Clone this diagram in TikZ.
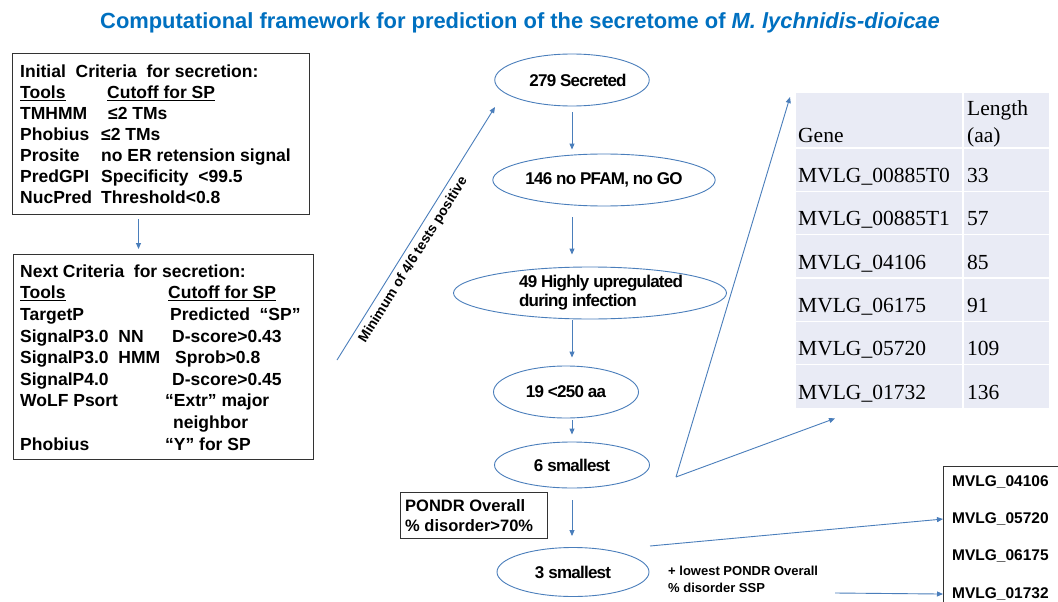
\documentclass[tikz,border=0pt]{standalone}
\usepackage{fontspec}
\setmainfont{Liberation Sans}
\newfontfamily\tabserif{Liberation Serif}
\newfontfamily\tightsans[LetterSpace=-4.5]{Liberation Sans}
\usetikzlibrary{arrows.meta,shapes.geometric}
\definecolor{linec}{RGB}{74,126,187}
\definecolor{titlec}{RGB}{0,112,192}
\definecolor{tabbg}{RGB}{233,235,245}
\begin{document}
\begin{tikzpicture}[x=1pt,y=-1pt,
  framebox/.style={draw=black!80, line width=1pt, inner sep=0pt, anchor=north west},
  txt/.style={inner sep=0pt, anchor=north west, font=\bfseries},
  flow/.style={ellipse, draw=linec, line width=0.9pt, inner sep=0pt,
    font=\tightsans\bfseries\fontsize{17}{19}\selectfont},
  arr/.style={draw=linec, line width=0.9pt, -{Triangle[length=6pt,width=5pt]}},
  cell/.style={inner sep=0pt, anchor=base west, font=\tabserif\fontsize{21.5}{26}\selectfont},
  gene/.style={inner sep=0pt, anchor=base west, font=\bfseries\fontsize{15.5}{18}\selectfont}]

\useasboundingbox[fill=white] (0,0) rectangle (1058,602);

% title
\node[font=\bfseries\fontsize{21.9}{26}\selectfont, text=titlec, inner sep=0pt] (title) at (520,23)
  {Computational framework for prediction of the secretome of \textit{M. lychnidis-dioicae}};

% initial criteria
\node[framebox, minimum width=297pt, minimum height=161pt] (crit1) at (12,53) {};
\node[txt] (crit1txt) at (20,62.8) {\fontsize{17.5}{21}\selectfont
  \begin{tabular}{@{}p{81pt}@{}l@{}}
  \multicolumn{2}{@{}l@{}}{Initial\ \ Criteria\ \ for secretion:}\\
  \underline{Tools} & \hspace{6pt}\underline{Cutoff for SP}\\
  TMHMM & \hspace{7pt}≤2 TMs\\
  Phobius & ≤2 TMs\\
  Prosite & no ER retension signal\\
  PredGPI & Specificity\ \ <99.5\\
  NucPred & Threshold<0.8
  \end{tabular}};

% next criteria
\node[framebox, minimum width=300pt, minimum height=205pt] (crit2) at (13,254) {};
\node[txt] (crit2txt) at (20,261.9) {\fontsize{17.5}{21.6}\selectfont
  \begin{tabular}{@{}p{145pt}@{}l@{}}
  \multicolumn{2}{@{}l@{}}{Next Criteria\ \ for secretion:}\\
  \underline{Tools} & \hspace{3pt}\underline{Cutoff for SP}\\
  TargetP & \hspace{5pt}Predicted\ \ “SP”\\
  SignalP3.0\ \ NN & \hspace{7pt}D-score>0.43\\
  SignalP3.0\ \ HMM & \hspace{10pt}Sprob>0.8\\
  SignalP4.0 & \hspace{7pt}D-score>0.45\\
  WoLF Psort & “Extr” major\\
   & \hspace{8pt}neighbor\\
  Phobius & “Y” for SP
  \end{tabular}};

\draw[arr, shorten <=4pt, shorten >=5pt] ([xshift=-22.5pt]crit1.south) -- ([xshift=-22.5pt]crit1.south |- crit2.north);

% vote arrow into the flow
\coordinate (minA) at (337,360);
\coordinate (minB) at (495,107);
\draw[arr] (minA) -- node[sloped, pos=0.42, below=5pt, inner sep=0pt,
  font=\bfseries\fontsize{13.8}{16}\selectfont] (minlbl) {Minimum of 4/6 tests positive} (minB);

% filtering steps
\node[flow, minimum width=146pt, minimum height=52pt] (E1) at (572,80) {\hspace{12pt}279 Secreted};
\node[flow, minimum width=220pt, minimum height=52pt] (E2) at (604,180) {146 no PFAM, no GO\hspace{8pt}};
\node[flow, minimum width=273pt, minimum height=52pt, align=left] (E3) at (590,293)
  {\hspace{22pt}49 Highly upregulated\\\hspace{22pt}during infection};
\node[flow, minimum width=145pt, minimum height=52pt] (E4) at (566,392) {19 <250 aa};
\node[flow, minimum width=155pt, minimum height=46pt] (E5) at (572,465) {6 smallest};
\node[flow, minimum width=152pt, minimum height=49pt] (E6) at (573,572) {3 smallest};

\draw[arr, shorten <=6pt, shorten >=4pt] (E1.south) -- (E1.south |- E2.north);
\draw[arr, shorten <=11pt, shorten >=12pt] (E1.south |- E2.south) -- (E1.south |- E3.north);
\draw[arr, shorten <=1pt, shorten >=8pt] (E1.south |- E3.south) -- (E1.south |- E4.north);
\draw[arr, shorten <=2pt, shorten >=7pt] (E1.south |- E4.south) -- (E1.south |- E5.north);
\draw[arr, shorten <=12pt, shorten >=11pt] (E1.south |- E5.south) -- (E1.south |- E6.north);

% PONDR criterion
\node[framebox, minimum width=147pt, minimum height=46pt] (pondr) at (400,492) {};
\node[txt] (pondrtxt) at (405,497) {\fontsize{16.5}{20}\selectfont
  \begin{tabular}{@{}l@{}}PONDR Overall\\\% disorder>70\%\end{tabular}};

% table of the six smallest
\node[fill=tabbg, anchor=north west, minimum width=253pt, minimum height=315pt, inner sep=0pt] (tab) at (796,93) {};
\foreach \yy in {148,191.3,234.7,278,321.3,364.7}
  \draw[white, line width=1.5pt] (796,\yy) -- (1049,\yy);
\draw[white, line width=1.5pt] (963,93) -- (963,408);
\node[cell] (h1) at (798,142) {Gene};
\node[cell] (h2) at (967,115) {Length};
\node[cell] (h3) at (967,142) {(aa)};
\node[cell] (g1) at (798,182) {MVLG\_00885T0};  \node[cell] (l1) at (967,182) {33};
\node[cell] (g2) at (798,225.5) {MVLG\_00885T1};\node[cell] (l2) at (967,225.5) {57};
\node[cell] (g3) at (798,269) {MVLG\_04106};    \node[cell] (l3) at (967,269) {85};
\node[cell] (g4) at (798,312) {MVLG\_06175};    \node[cell] (l4) at (967,312) {91};
\node[cell] (g5) at (798,355.5) {MVLG\_05720};  \node[cell] (l5) at (967,355.5) {109};
\node[cell] (g6) at (798,399) {MVLG\_01732};    \node[cell] (l6) at (967,399) {136};

\coordinate (vtx) at (676,477);
\draw[arr] (vtx) -- ([xshift=-6pt,yshift=-4pt]tab.north west);
\draw[arr] (vtx) -- ([xshift=39pt,yshift=-10pt]tab.south west);

% final selection
\node[framebox, minimum width=140pt, minimum height=160pt] (mbox) at (943,466) {};
\node[gene] (m1) at (952,486.5) {MVLG\_04106};
\node[gene] (m2) at (952,523.5) {MVLG\_05720};
\node[gene] (m3) at (952,560.5) {MVLG\_06175};
\node[gene] (m4) at (952,598.5) {MVLG\_01732};

\node[txt, font=\bfseries\fontsize{13}{17}\selectfont] (lowest) at (668,563.5)
  {\begin{tabular}{@{}l@{}}+ lowest PONDR Overall\\\% disorder SSP\end{tabular}};

\coordinate (s3out) at (650,546);
\coordinate (lowout) at (835,593);
\draw[arr] (s3out) -- (mbox.west |- m2);
\draw[arr] (lowout) -- (mbox.west |- m4);
\end{tikzpicture}
\end{document}
